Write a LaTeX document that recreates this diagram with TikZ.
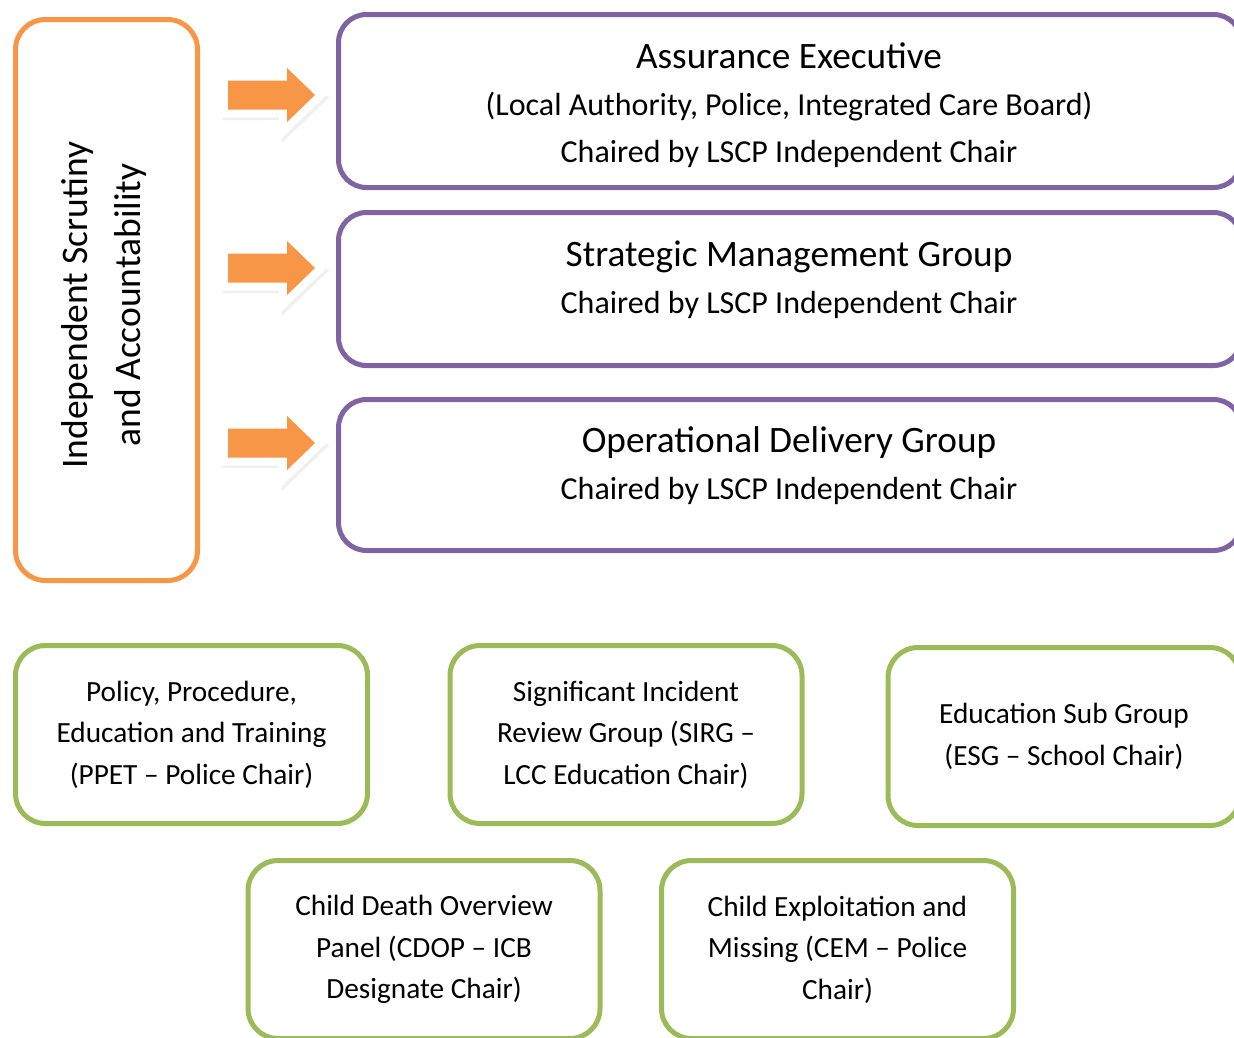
\documentclass[tikz,border=0pt]{standalone}
\usepackage{fontspec}
\setmainfont{Carlito}
\usetikzlibrary{positioning,calc}
\definecolor{orgline}{HTML}{F79646}
\definecolor{purpline}{HTML}{8064A2}
\definecolor{grnline}{HTML}{9BBB59}
\tikzset{
    orangebox/.style={draw=orgline, line width=5pt, rounded corners=30pt, inner sep=0pt},
    purplebox/.style={draw=purpline, line width=5pt, rounded corners=28pt,
        minimum width=903pt, inner sep=0pt},
    greenbox/.style={draw=grnline, line width=5pt, rounded corners=30pt,
        minimum width=352pt, minimum height=178pt, align=center,
        font=\fontsize{29.3}{41.5}\selectfont},
    grouptext/.style={align=center, font=\fontsize{32}{47}\selectfont},
    fatarrow/.style={fill=orgline},
    arrowrim/.style={fill=white, draw=white, line width=16pt, line join=miter},
    arrowshade/.style={fill=black!6, draw=black!6, line width=16pt, line join=miter}
}

\begin{document}
\begin{tikzpicture}[x=1pt, y=-1pt]
    \useasboundingbox (0,0) rectangle (1234,1037);
    % Scrutiny
    \node[orangebox, minimum width=182pt, minimum height=561pt] (scrutiny) at (106.5,300) {};
    \node[rotate=90, align=center, font=\fontsize{37.5}{53}\selectfont] (scrutinytext)
        at (104,305) {Independent Scrutiny\\and Accountability};
    % Groups
    \node[purplebox, minimum height=173pt] (assurance) at (790,101) {};
    \node[purplebox, minimum height=153pt] (strategic) at (790,289) {};
    \node[purplebox, minimum height=151pt] (operational) at (790,475) {};
    \node[grouptext] (assurancetext) at (789,105.5)
        {{\fontsize{37.3}{47}\selectfont Assurance Executive}\\
         (Local Authority, Police, Integrated Care Board)\\
         Chaired by LSCP Independent Chair};
    \node[grouptext] (strategictext) at (789,280)
        {{\fontsize{37.3}{47}\selectfont Strategic Management Group}\\
         Chaired by LSCP Independent Chair};
    \node[grouptext] (operationaltext) at (789,466)
        {{\fontsize{37.3}{47}\selectfont Operational Delivery Group}\\
         Chaired by LSCP Independent Chair};
    % Arrows
    \foreach \cy in {95,268,443} {
        \draw[arrowshade, shift={(2.5,2.5)}] (228,\cy-14.5) -- (287,\cy-14.5) -- (287,\cy-27)
            -- (315,\cy) -- (287,\cy+27) -- (287,\cy+14.5) -- (228,\cy+14.5) -- cycle;
        \draw[arrowrim] (228,\cy-14.5) -- (287,\cy-14.5) -- (287,\cy-27)
            -- (315,\cy) -- (287,\cy+27) -- (287,\cy+14.5) -- (228,\cy+14.5) -- cycle;
        \fill[fatarrow] (228,\cy-14.5) -- (287,\cy-14.5) -- (287,\cy-27)
            -- (315,\cy) -- (287,\cy+27) -- (287,\cy+14.5) -- (228,\cy+14.5) -- cycle;
    }
    % Sub groups
    \node[greenbox] (ppet) at (191.5,734.5) {Policy, Procedure,\\Education and Training\\(PPET – Police Chair)};
    \node[greenbox] (sirg) at (626,734.5) {Significant Incident\\Review Group (SIRG –\\LCC Education Chair)};
    \node[greenbox] (esg) at (1064,736.5) {Education Sub Group\\(ESG – School Chair)};
    \node[greenbox] (cdop) at (424,949.5) {Child Death Overview\\Panel (CDOP – ICB\\Designate Chair)};
    \node[greenbox] (cem) at (837.5,949.5) {Child Exploitation and\\Missing (CEM – Police\\Chair)};
\end{tikzpicture}
\end{document}
